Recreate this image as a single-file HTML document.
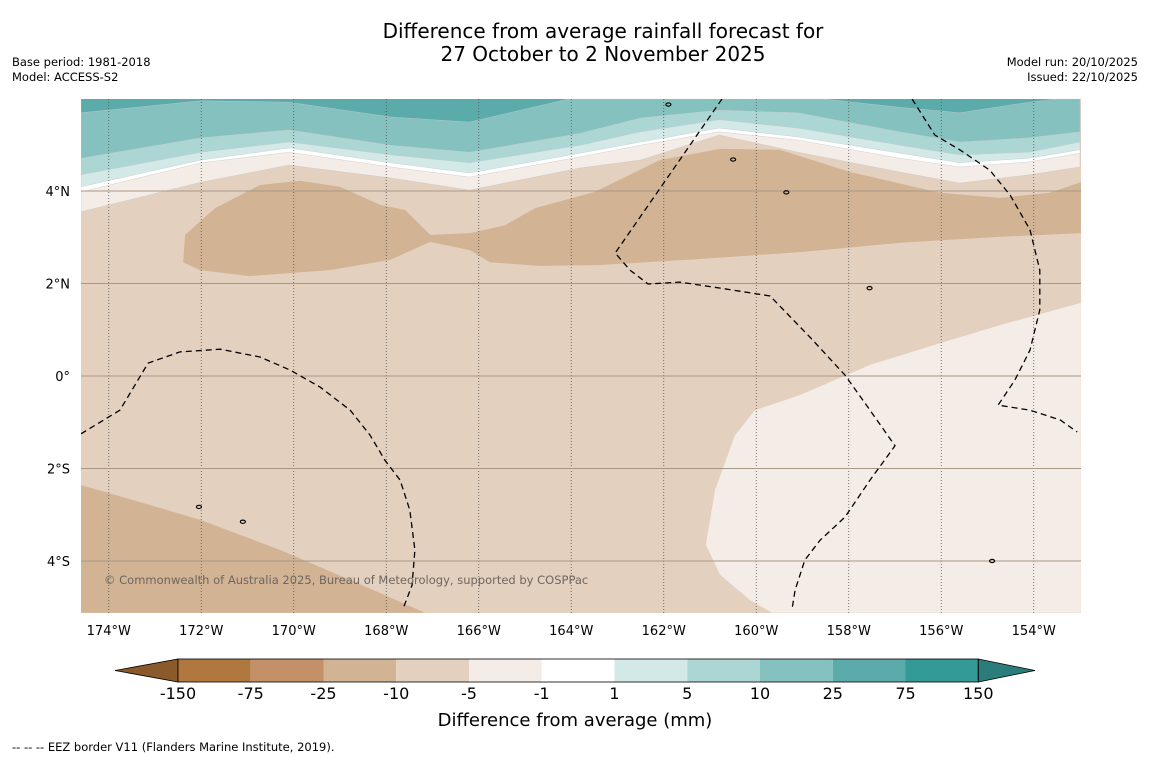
<!DOCTYPE html>
<html><head><meta charset="utf-8"><style>
body{margin:0;background:#fff;width:1150px;height:758px;overflow:hidden;font-family:"DejaVu Sans","Liberation Sans",sans-serif}
svg{display:block;font-family:"DejaVu Sans","Liberation Sans",sans-serif}
</style></head><body>
<svg id="c" width="1150" height="758" xmlns="http://www.w3.org/2000/svg">
<text x="603" y="38" font-size="20" text-anchor="middle">Difference from average rainfall forecast for</text>
<text x="603" y="61" font-size="20" text-anchor="middle">27 October to 2 November 2025</text>
<text x="12" y="66" font-size="11.5">Base period: 1981-2018</text>
<text x="12" y="81" font-size="11.5">Model: ACCESS-S2</text>
<text x="1138" y="66" font-size="11.5" text-anchor="end">Model run: 20/10/2025</text>
<text x="1138" y="81" font-size="11.5" text-anchor="end">Issued: 22/10/2025</text>
<defs><clipPath id="mc"><rect x="81" y="99" width="1000" height="514"/></clipPath></defs>
<g id="map" clip-path="url(#mc)"></g>
<g id="axes"></g>
<g id="cbar"></g>
<text x="575" y="726" font-size="18" text-anchor="middle">Difference from average (mm)</text>
<text x="12" y="751" font-size="11.5">--  --  -- EEZ border V11 (Flanders Marine Institute, 2019).</text>
</svg>
<script>
const NS="http://www.w3.org/2000/svg";
const bandLon=[-174.6,-172.0,-170.1,-167.9,-166.2,-163.8,-162.5,-160.8,-159.1,-156.9,-155.6,-154.1,-153.0];
const b75=[5.69,5.95,5.92,5.6,5.49,6.05,6.05,6.05,6.05,5.81,5.69,5.92,6.05];
const b25=[4.71,5.15,5.32,4.99,4.84,5.25,5.58,5.75,5.69,5.28,5.06,5.15,5.28];
const b10=[4.35,4.84,5.06,4.78,4.61,4.99,5.28,5.54,5.36,4.99,4.78,4.84,5.06];
const b5=[4.09,4.67,4.93,4.61,4.39,4.82,5.06,5.36,5.17,4.82,4.61,4.71,4.89];
const b1=[3.98,4.61,4.84,4.52,4.30,4.74,4.99,5.28,5.10,4.71,4.52,4.63,4.82];
const bm1=[3.55,4.19,4.56,4.28,4.02,4.50,4.67,5.21,4.84,4.41,4.17,4.35,4.52];
const regionA=[[-172.39,2.46],[-172.35,3.05],[-171.7,3.63],[-170.73,4.13],[-169.87,4.22],[-169.0,4.09],[-168.13,3.7],[-167.59,3.59],[-167.05,3.05],[-166.19,3.09],[-165.43,3.26],[-164.78,3.63],[-163.49,3.98],[-162.08,4.67],[-160.78,4.91],[-159.49,4.89],[-157.97,4.41],[-156.03,3.96],[-154.73,3.85],[-153.65,3.96],[-152.98,4.19],[-152.98,3.09],[-154.73,3.01],[-156.89,2.88],[-159.05,2.68],[-161.22,2.53],[-163.38,2.4],[-164.68,2.38],[-165.76,2.46],[-166.19,2.72],[-167.05,2.9],[-167.92,2.51],[-169.22,2.29],[-170.95,2.16],[-172.03,2.29]];
const regionB=[[-174.6,-2.36],[-173.11,-2.79],[-172.03,-3.11],[-170.3,-3.76],[-168.78,-4.41],[-167.16,-5.12],[-174.6,-5.12]];
const regionLight=[[-152.98,1.58],[-154.73,1.1],[-156.03,0.71],[-157.54,0.24],[-159.05,-0.41],[-160.03,-0.74],[-160.46,-1.28],[-160.89,-2.46],[-161.09,-3.65],[-160.78,-4.3],[-160.14,-4.84],[-159.66,-5.12],[-152.98,-5.12]];
const eez1=[[-174.6,-1.25],[-173.76,-0.74],[-173.15,0.28],[-172.46,0.52],[-171.59,0.58],[-170.73,0.41],[-170.08,0.13],[-169.43,-0.24],[-168.78,-0.74],[-168.35,-1.28],[-168.03,-1.82],[-167.7,-2.25],[-167.49,-2.9],[-167.38,-3.76],[-167.44,-4.52],[-167.62,-4.99]];
const eez2=[[-160.74,5.99],[-163.05,2.66],[-162.73,2.29],[-162.34,1.99],[-161.65,2.03],[-160.78,1.9],[-159.7,1.73],[-158.84,0.84],[-158.08,0.02],[-157.54,-0.74],[-157.0,-1.51],[-157.54,-2.25],[-158.08,-3.05],[-158.62,-3.55],[-158.95,-3.98],[-159.16,-4.63],[-159.23,-5.06]];
const eez3=[[-156.63,5.99],[-156.14,5.21],[-155.6,4.89],[-154.95,4.45],[-154.51,3.91],[-154.08,3.16],[-153.87,2.29],[-153.87,1.43],[-154.08,0.56],[-154.41,-0.09],[-154.77,-0.63],[-154.08,-0.74],[-153.43,-0.95],[-153.06,-1.21]];
const islands=[[-157.55,1.9],[-159.35,3.97],[-172.05,-2.83],[-161.9,5.87],[-160.5,4.68],[-171.1,-3.15],[-154.9,-4.0]];
const lonTicks=[-174,-172,-170,-168,-166,-164,-162,-160,-158,-156,-154];
const latTicks=[4,2,0,-2,-4];
const cbLabels=["-150","-75","-25","-10","-5","-1","1","5","10","25","75","150"];
const cbColors=["#b0773f","#c49068","#d2b394","#e3d0bf","#f4ece6","#ffffff","#d3e9e8","#acd6d4","#84c1bf","#5aabaa","#339a98"];

const X=lon=>81+(lon+174.6)*46.25, Y=lat=>376-lat*46.25;
const map=document.getElementById('map'), axes=document.getElementById('axes'), cbar=document.getElementById('cbar');
function mk(tag,attrs,parent){const e=document.createElementNS(NS,tag);for(const k in attrs)e.setAttribute(k,attrs[k]);parent.appendChild(e);return e;}
function pts(arr){return arr.map(p=>X(p[0]).toFixed(1)+','+Y(p[1]).toFixed(1)).join(' ');}
let bg=mk('rect',{x:81,y:99,width:1000,height:514,fill:'#e3d0bf'},map);


let p;
p=mk('polygon',{points:pts(regionA),fill:'#d2b394'},map);


p=mk('polygon',{points:pts(regionB),fill:'#d2b394'},map);


p=mk('polygon',{points:pts(regionLight),fill:'#f4ece6'},map);


const bands=[[bm1,'#f4ece6','band-minus5-minus1'],[b1,'#ffffff','band-minus1-1'],[b5,'#d3e9e8','band-1-5'],[b10,'#acd6d4','band-5-10'],[b25,'#84c1bf','band-10-25'],[b75,'#5aabaa','band-25-75']];
bands.forEach(b=>{
  const arr=bandLon.map((l,i)=>[l,b[0][i]]);
  arr.push([-153.0,7],[-174.6,7]);
  const e=mk('polygon',{points:pts(arr),fill:b[1],stroke:'#c8c8c8','stroke-width':0.4},map);
  
  
});
lonTicks.forEach(l=>{
  const g=mk('line',{x1:X(l),x2:X(l),y1:99,y2:613,stroke:'#555','stroke-width':0.8,'stroke-dasharray':'1,2'},map);
  
  
  const t=mk('text',{x:X(l),y:635,'font-size':13,'text-anchor':'middle'},axes);
  t.textContent=Math.abs(l)+'°W';
  
  
});
latTicks.forEach(l=>{
  const g=mk('line',{x1:81,x2:1081,y1:Y(l),y2:Y(l),stroke:'#a89888','stroke-width':1},map);
  
  
  const t=mk('text',{x:70,y:Y(l)+5,'font-size':13,'text-anchor':'end'},axes);
  t.textContent=l===0?'0°':Math.abs(l)+'°'+(l>0?'N':'S');
  
  
});
[eez1,eez2,eez3].forEach(a=>{
  const e=mk('polyline',{points:pts(a),fill:'none',stroke:'#000','stroke-width':1.3,'stroke-dasharray':'6,4'},map);
  
  
});
islands.forEach(a=>{
  const e=mk('ellipse',{cx:X(a[0]),cy:Y(a[1]),rx:2.5,ry:1.6,fill:'none',stroke:'#000','stroke-width':1.2},map);
  
  
});
let cp=mk('text',{x:104,y:584,'font-size':11.5,fill:'#6e6660'},map);
cp.textContent='© Commonwealth of Australia 2025, Bureau of Meteorology, supported by COSPPac';


const cx0=178, cw=72.75, cy=659, ch=23;
let tl=mk('polygon',{points:`115,${cy+ch/2} ${cx0},${cy} ${cx0},${cy+ch}`,fill:'#8b5a2b',stroke:'#000','stroke-width':0.8},cbar);


cbColors.forEach((c,i)=>{
  const r=mk('rect',{x:cx0+i*cw,y:cy,width:cw,height:ch,fill:c},cbar);
  
  
});
const xe=cx0+cbColors.length*cw;
let tr=mk('polygon',{points:`${xe},${cy} 1035,${cy+ch/2} ${xe},${cy+ch}`,fill:'#2b7d7b',stroke:'#000','stroke-width':0.8},cbar);


mk('rect',{x:cx0,y:cy,width:xe-cx0,height:ch,fill:'none',stroke:'#000','stroke-width':0.8},cbar);
cbLabels.forEach((s,i)=>{
  const t=mk('text',{x:cx0+i*cw,y:699,'font-size':16,'text-anchor':'middle'},cbar);
  t.textContent=s;
  
  
});
</script>
</body></html>
